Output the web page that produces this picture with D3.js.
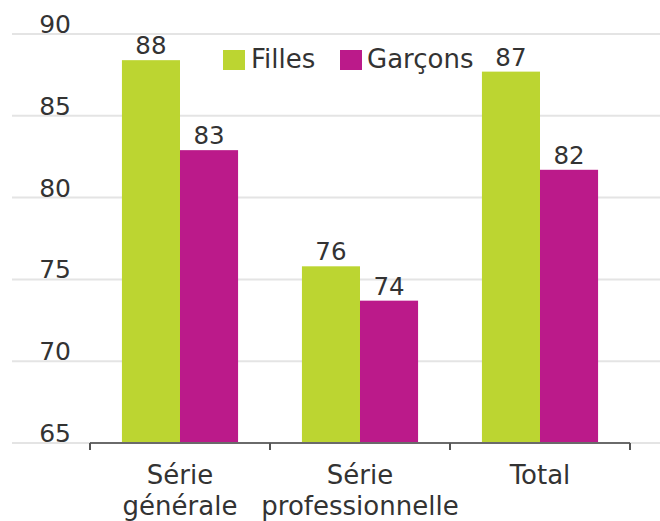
<!DOCTYPE html>
<html>
<head>
<meta charset="utf-8">
<script src="https://cdn.jsdelivr.net/npm/d3@7"></script>
<style>
  html, body { margin: 0; padding: 0; background: #fff; }
  svg { display: block; }
  text { font-family: "DejaVu Sans", sans-serif; fill: #333; }
</style>
</head>
<body>
<svg id="chart" width="660" height="521"></svg>
<script>
// ---- data ----
const categories = [["Série", "générale"], ["Série", "professionnelle"], ["Total"]];
const seriesNames = ["Filles", "Garçons"];
const filles = [88.4, 75.8, 87.7];
const garcons = [82.9, 73.7, 81.7];
const fillesLabels = ["88", "76", "87"];
const garconsLabels = ["83", "74", "82"];
const yTicks = [65, 70, 75, 80, 85, 90];
const colors = ["#bcd531", "#bb1a8a"];

// ---- layout ----
const svg = d3.select("#chart");
const y = d3.scaleLinear().domain([65, 90]).range([443, 34]);
const catKeys = categories.map(c => c.join(" "));
const x0 = d3.scaleBand().domain(catKeys).range([90, 630]).padding(0);
const x1 = d3.scaleBand().domain(seriesNames).range([0, x0.bandwidth()]).paddingInner(0).paddingOuter(0.55);

// gridlines
svg.append("g").selectAll("line").data(yTicks).join("line")
  .attr("x1", 12).attr("x2", 660)
  .attr("y1", d => y(d)).attr("y2", d => y(d))
  .attr("stroke", "#e4e4e4").attr("stroke-width", 2);

// y labels
svg.append("g").selectAll("text").data(yTicks).join("text")
  .attr("x", 71).attr("y", d => y(d) - 1)
  .attr("text-anchor", "end")
  .style("font-size", "25px")
  .text(d => d);

// bars
const rows = catKeys.map((k, i) => ({
  key: k,
  vals: [
    { s: "Filles", v: filles[i], lab: fillesLabels[i] },
    { s: "Garçons", v: garcons[i], lab: garconsLabels[i] }
  ]
}));

const groups = svg.append("g").selectAll("g").data(rows).join("g")
  .attr("transform", d => `translate(${x0(d.key)},0)`);

groups.selectAll("rect").data(d => d.vals).join("rect")
  .attr("x", d => x1(d.s))
  .attr("width", x1.bandwidth())
  .attr("y", d => y(d.v))
  .attr("height", d => y(65) - y(d.v))
  .attr("fill", (d, i) => colors[i]);

groups.selectAll("text").data(d => d.vals).join("text")
  .attr("x", d => x1(d.s) + x1.bandwidth() / 2)
  .attr("y", d => y(d.v) - 6)
  .attr("text-anchor", "middle")
  .style("font-size", "24.5px")
  .text(d => d.lab);

// x axis
const xAxis = svg.append("g");
xAxis.append("line")
  .attr("x1", 90).attr("x2", 630)
  .attr("y1", y(65)).attr("y2", y(65))
  .attr("stroke", "#6a6a6a").attr("stroke-width", 2);
const tickXs = catKeys.map(k => x0(k)).concat([x0(catKeys[catKeys.length - 1]) + x0.bandwidth()]);
xAxis.selectAll("line.tick").data(tickXs).join("line")
  .attr("class", "tick")
  .attr("x1", d => d).attr("x2", d => d)
  .attr("y1", y(65)).attr("y2", y(65) + 7)
  .attr("stroke", "#555").attr("stroke-width", 2);

const xl = svg.append("g").selectAll("text").data(categories).join("text")
  .attr("text-anchor", "middle")
  .style("font-size", "26px")
  .attr("x", (d, i) => x0(catKeys[i]) + x0.bandwidth() / 2)
  .attr("y", 484);
xl.selectAll("tspan").data(d => d).join("tspan")
  .attr("x", function () { return d3.select(this.parentNode).attr("x"); })
  .attr("dy", (d, i) => i === 0 ? 0 : 31)
  .text(d => d);

// legend
const legendPos = [{ x: 223, tx: 251 }, { x: 340, tx: 367 }];
const lg = svg.append("g").selectAll("g").data(seriesNames).join("g");
lg.append("rect")
  .attr("x", (d, i) => legendPos[i].x).attr("y", 50)
  .attr("width", 22).attr("height", 20)
  .attr("fill", (d, i) => colors[i]);
lg.append("text")
  .attr("x", (d, i) => legendPos[i].tx).attr("y", 68)
  .style("font-size", "26px")
  .text(d => d);
</script>
</body>
</html>
